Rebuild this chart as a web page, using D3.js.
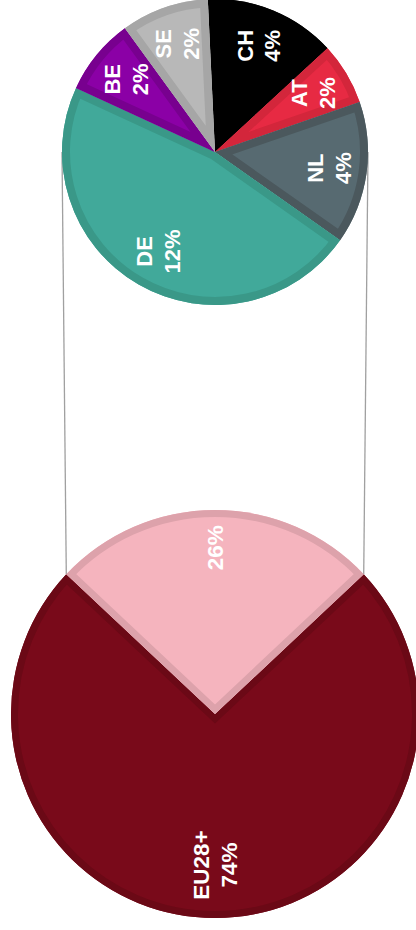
<!DOCTYPE html>
<html>
<head>
<meta charset="utf-8">
<script src="https://cdn.jsdelivr.net/npm/d3@7/dist/d3.min.js"></script>
<style>
  html, body { margin: 0; padding: 0; background: #ffffff; }
  svg { display: block; }
  text { font-family: "Liberation Sans", Arial, sans-serif; font-weight: bold; fill: #ffffff; }
</style>
</head>
<body>
<svg id="chart" width="416" height="930"></svg>
<script>
// ---- data ----
const mainCategories = ["EU28+", "Other"];
const mainNames = ["EU28+", ""];
const mainValues = [74, 26];

const detailCategories = ["CH", "AT", "NL", "DE", "BE", "SE"];
const detailValues = [3.6, 1.7, 3.9, 12.2, 2.1, 2.4];

// ---- styles ----
const mainFill = ["#790a1a", "#f5b4be"];
const mainBorder = ["#6b0916", "#dda2ab"];
const detailFill = ["#000000", "#e72a43", "#576a71", "#41a99a", "#8b00a6", "#b8b8b8"];
const detailBorder = ["#000000", "#d3263b", "#4b585d", "#3a9888", "#78008f", "#a6a6a6"];

const svg = d3.select("#chart");

const big = { cx: 215, cy: 714, r: 204 };
const small = { cx: 215, cy: 152, r: 153 };

const mainTotal = d3.sum(mainValues);
const halfOther = mainValues[1] / mainTotal * Math.PI;

const mainPie = d3.pie().sort(null).value(d => d.v)
  .startAngle(halfOther).endAngle(halfOther + 2 * Math.PI);
const mainArcs = mainPie(mainValues.map((v, i) => ({ v, i })));

const smallStart = -2.7 * Math.PI / 180;
const detailPie = d3.pie().sort(null).value(d => d.v)
  .startAngle(smallStart).endAngle(smallStart + 2 * Math.PI);
const detailArcs = detailPie(detailValues.map((v, i) => ({ v, i })));

// connector lines (behind pies)
const edgeL = [big.cx + big.r * Math.sin(-halfOther), big.cy - big.r * Math.cos(-halfOther)];
const edgeR = [big.cx + big.r * Math.sin(halfOther), big.cy - big.r * Math.cos(halfOther)];
const conn = svg.append("g");
conn.append("line").attr("x1", small.cx - small.r).attr("y1", small.cy)
  .attr("x2", edgeL[0]).attr("y2", edgeL[1]);
conn.append("line").attr("x1", small.cx + small.r).attr("y1", small.cy)
  .attr("x2", edgeR[0]).attr("y2", edgeR[1]);
conn.selectAll("line").attr("stroke", "#a0a0a0").attr("stroke-width", 1.3);

function drawPieLocal(arcsData, center, fills, borders, prefix, borderW) {
  const arc = d3.arc().innerRadius(0).outerRadius(center.r);
  const g = svg.append("g").attr("transform", `translate(${center.cx},${center.cy})`);
  arcsData.forEach((d, k) => {
    const id = prefix + k;
    g.append("clipPath").attr("id", id).append("path").attr("d", arc(d));
    g.append("path").attr("d", arc(d)).attr("fill", fills[d.data.i]);
    g.append("path").attr("d", arc(d))
      .attr("fill", "none")
      .attr("stroke", borders[d.data.i])
      .attr("stroke-width", borderW * 2)
      .attr("clip-path", `url(#${id})`);
  });
  return g;
}

const gSmall = drawPieLocal(detailArcs, small, detailFill, detailBorder, "cs", 8);
const gBig = drawPieLocal(mainArcs, big, mainFill, mainBorder, "cb", 7);

function addLabel(g, d, r, factor, lines, size) {
  const a = (d.startAngle + d.endAngle) / 2;
  const x = Math.sin(a) * r * factor;
  const y = -Math.cos(a) * r * factor;
  const t = g.append("text")
    .attr("transform", `translate(${x},${y}) rotate(-90)`)
    .attr("text-anchor", "middle")
    .style("font-size", size + "px");
  const lh = 28;
  const n = lines.length;
  lines.forEach((s, j) => {
    const off = (j - (n - 1) / 2) * lh;
    t.append("tspan").attr("x", 0).attr("y", off).attr("dy", "0.36em").text(s);
  });
}

detailArcs.forEach(d => {
  const pct = Math.round(d.data.v) + "%";
  addLabel(gSmall, d, small.r, 0.75, [detailCategories[d.data.i], pct], 22);
});

mainArcs.forEach(d => {
  const pct = Math.round(d.data.v) + "%";
  const name = mainNames[d.data.i];
  if (name) addLabel(gBig, d, big.r, 0.74, [name, pct], 22.5);
  else addLabel(gBig, d, big.r, 0.815, [pct], 22.5);
});
</script>
</body>
</html>
